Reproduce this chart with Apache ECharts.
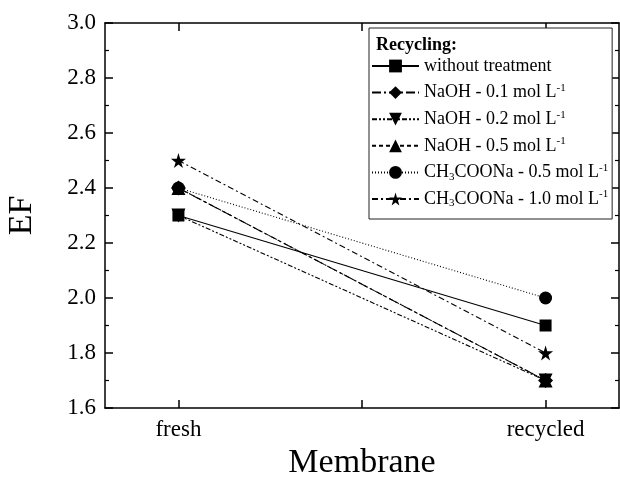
<!DOCTYPE html>
<html><head><meta charset="utf-8">
<script src="https://cdn.jsdelivr.net/npm/echarts@6/dist/echarts.min.js"></script>
<style>html,body{margin:0;padding:0;background:#fff}#c{width:620px;height:488px}</style>
</head><body><div id="c"></div>
<script>
var categories = ['fresh', 'recycled'];
var seriesNames = ['without treatment', 'NaOH - 0.1 mol L-1', 'NaOH - 0.2 mol L-1', 'NaOH - 0.5 mol L-1', 'CH3COONa - 0.5 mol L-1', 'CH3COONa - 1.0 mol L-1'];
var withoutTreatment = [2.3, 1.9];
var naoh01 = [2.4, 1.7];
var naoh02 = [2.3, 1.7];
var naoh05 = [2.4, 1.7];
var ch3coona05 = [2.4, 2.0];
var ch3coona10 = [2.5, 1.8];
var yTicks = [1.6, 1.8, 2.0, 2.2, 2.4, 2.6, 2.8, 3.0];

var richNames = {
  'without treatment': 'without treatment',
  'NaOH - 0.1 mol L-1': 'NaOH - 0.1 mol L{sup|-1}',
  'NaOH - 0.2 mol L-1': 'NaOH - 0.2 mol L{sup|-1}',
  'NaOH - 0.5 mol L-1': 'NaOH - 0.5 mol L{sup|-1}',
  'CH3COONa - 0.5 mol L-1': 'CH{sub|3}COONa - 0.5 mol L{sup|-1}',
  'CH3COONa - 1.0 mol L-1': 'CH{sub|3}COONa - 1.0 mol L{sup|-1}'
};
var FONT = 'Liberation Serif';
var star = 'path://M50,0 L61,35 L98,35 L68,57 L79,91 L50,70 L21,91 L32,57 L2,35 L39,35 Z';

function pts(vals) { return vals.map(function (v, i) { return [i + 1, v]; }); }

var styles = [
  { data: withoutTreatment, symbol: 'rect', size: 12, type: 'solid', rot: 0 },
  { data: naoh01, symbol: 'diamond', size: 15, type: [9, 3, 2, 3], rot: 0 },
  { data: naoh02, symbol: 'triangle', size: 14, type: [5, 2, 2, 2, 2, 2], rot: 180 },
  { data: naoh05, symbol: 'triangle', size: 14, type: [4, 3], rot: 0 },
  { data: ch3coona05, symbol: 'circle', size: 13, type: [1, 2], rot: 0 },
  { data: ch3coona10, symbol: star, size: 15, type: [6, 3, 2, 3], rot: 0 }
];

var series = styles.map(function (s, i) {
  return {
    name: seriesNames[i], type: 'line', data: pts(s.data),
    symbol: s.symbol, symbolSize: s.size, symbolRotate: s.rot,
    showSymbol: true,
    itemStyle: { color: '#000' },
    lineStyle: { color: '#000', width: 1.1, type: s.type },
    emphasis: { disabled: true }, animation: false
  };
});

var axisCommon = {
  axisLine: { show: true, lineStyle: { color: '#000', width: 1.5 } },
  splitLine: { show: false }
};

var chart = echarts.init(document.getElementById('c'));
chart.setOption({
  backgroundColor: '#fff',
  animation: false,
  grid: { left: 105, right: 1, top: 23, bottom: 80, containLabel: false, outerBoundsMode: 'none' },
  title: { text: 'Recycling:', left: 371, top: 31, textStyle: { fontFamily: FONT, fontSize: 18, fontWeight: 'bold', color: '#000' } },
  legend: {
    orient: 'vertical', left: 369, top: 28, padding: [28, 4, 10, 2],
    borderColor: '#222', borderWidth: 1, backgroundColor: '#fff',
    itemWidth: 47, itemHeight: 16, itemGap: 6.6,
    data: seriesNames,
    formatter: function (n) { return richNames[n]; },
    textStyle: {
      fontFamily: FONT, fontSize: 18, color: '#000', lineHeight: 20,
      rich: {
        sup: { fontFamily: FONT, fontSize: 11, verticalAlign: 'top', lineHeight: 20, padding: [0, 0, 8, 0] },
        sub: { fontFamily: FONT, fontSize: 11, verticalAlign: 'bottom', lineHeight: 20, padding: [8, 0, 0, 0] }
      }
    }
  },
  xAxis: [
    Object.assign({
      type: 'value', min: 0.8, max: 2.2, position: 'bottom',
      name: 'Membrane', nameLocation: 'middle', nameGap: 35,
      nameTextStyle: { fontFamily: FONT, fontSize: 34, color: '#000' },
      axisTick: { inside: true, length: 8, customValues: [1, 1.5, 2], lineStyle: { color: '#000', width: 1.5 } },
      axisLabel: { customValues: [1, 2], margin: 10, fontFamily: FONT, fontSize: 23, color: '#000',
        formatter: function (v) { return categories[Math.round(v) - 1] || ''; } }
    }, axisCommon),
    Object.assign({
      type: 'value', min: 0.8, max: 2.2, position: 'top',
      axisTick: { inside: true, length: 8, customValues: [1, 1.5, 2], lineStyle: { color: '#000', width: 1.5 } },
      axisLabel: { show: false }
    }, axisCommon)
  ],
  yAxis: [
    Object.assign({
      type: 'value', min: 1.6, max: 3.0, interval: 0.2, position: 'left',
      name: 'EF', nameLocation: 'middle', nameGap: 66,
      nameTextStyle: { fontFamily: FONT, fontSize: 34, color: '#000' },
      axisTick: { inside: true, length: 8, lineStyle: { color: '#000', width: 1.5 } },
      minorTick: { show: true, splitNumber: 2, length: 4, lineStyle: { color: '#000', width: 1.2 } },
      axisLabel: { margin: 9, fontFamily: FONT, fontSize: 23, color: '#000',
        customValues: yTicks,
        formatter: function (v) { return v.toFixed(1); } }
    }, axisCommon),
    Object.assign({
      type: 'value', min: 1.6, max: 3.0, interval: 0.2, position: 'right',
      axisTick: { inside: true, length: 8, lineStyle: { color: '#000', width: 1.5 } },
      minorTick: { show: true, splitNumber: 2, length: 4, lineStyle: { color: '#000', width: 1.2 } },
      axisLabel: { show: false }
    }, axisCommon)
  ],
  series: series
});
</script></body></html>
